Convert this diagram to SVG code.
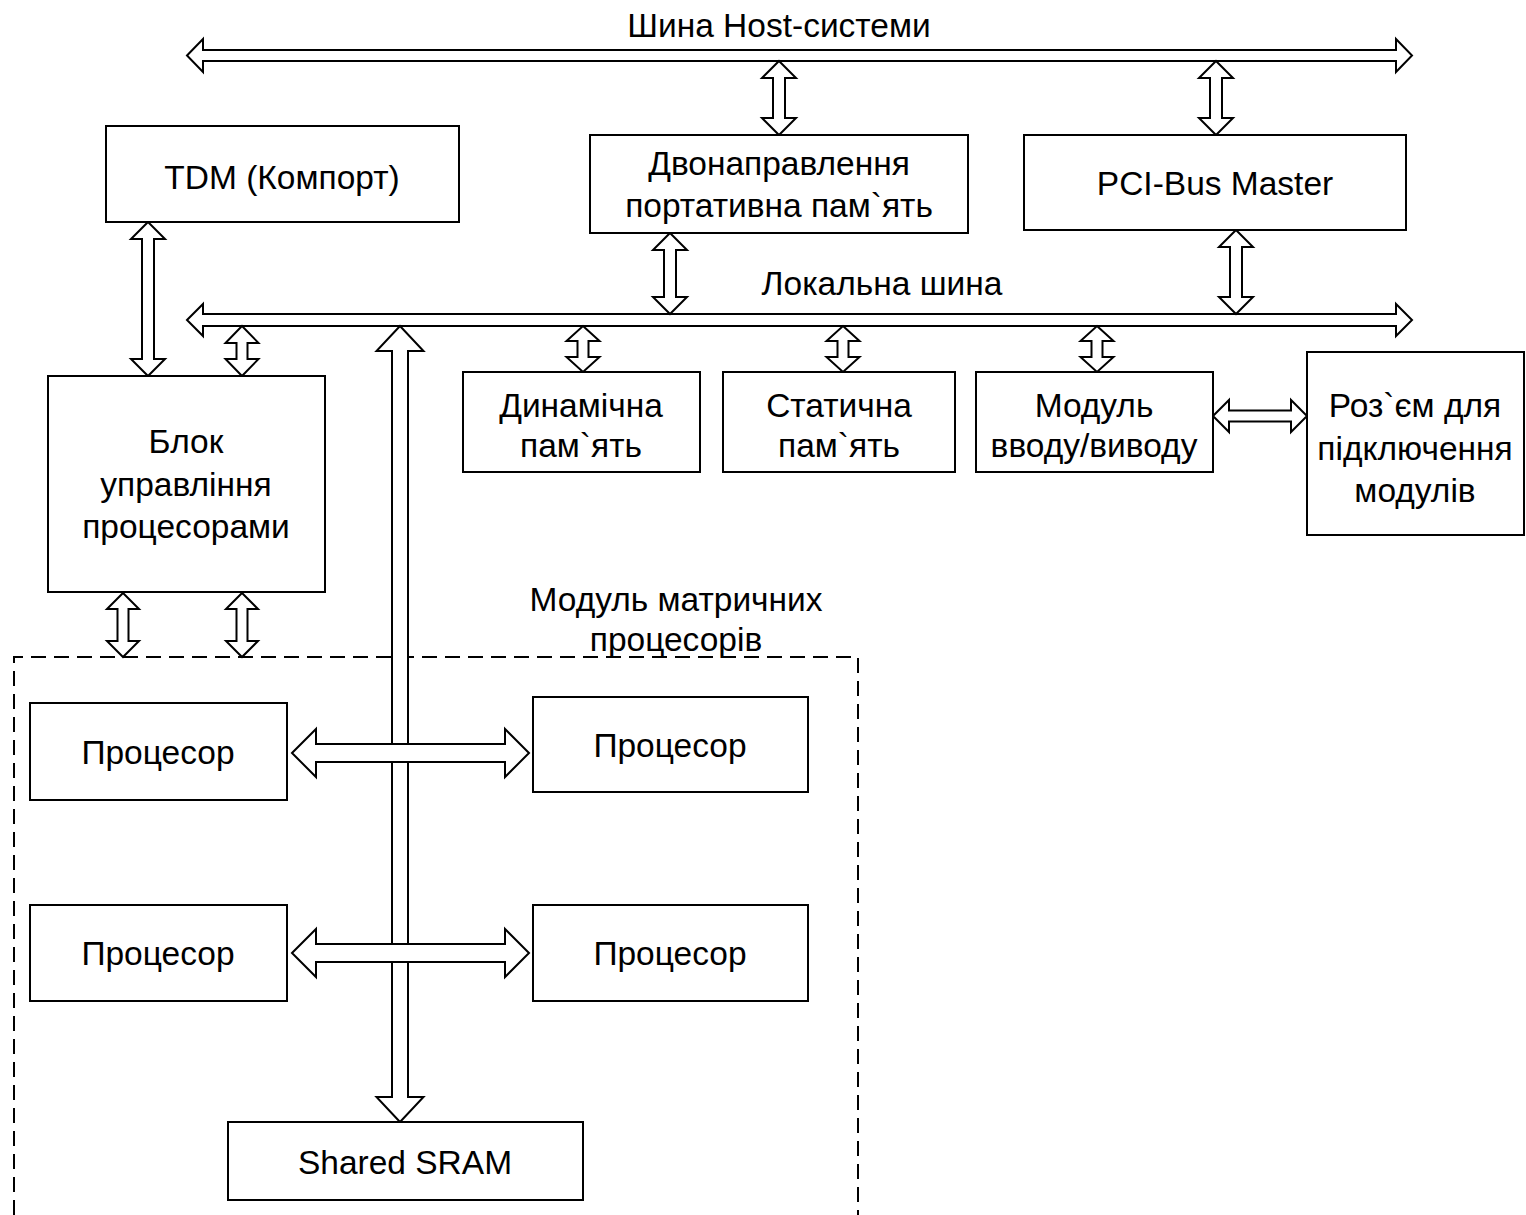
<svg xmlns="http://www.w3.org/2000/svg" width="1526" height="1215" viewBox="0 0 1526 1215">
<style>
.box{fill:#fff;stroke:#000;stroke-width:2}
.arr{fill:#fff;stroke:#000;stroke-width:2;stroke-linejoin:miter}
.dash{fill:none;stroke:#000;stroke-width:2;stroke-dasharray:15 8}
text{font-family:"Liberation Sans",Arial,sans-serif;font-size:33.5px;fill:#000;text-anchor:middle}
</style>
<rect width="1526" height="1215" fill="#fff"/>
<g id="module-border">
<path class="dash" d="M14,1215 V657 H858 V1215"/>
<text x="676" y="611">Модуль матричних</text>
<text x="676" y="651">процесорів</text>
</g>
<g id="connectors">
<polygon class="arr" points="187,55.5 203,39 203,50 1396,50 1396,39 1412,55.5 1396,72 1396,61 203,61 203,72"/>
<polygon class="arr" points="187,320 203,304 203,314 1396,314 1396,304 1412,320 1396,336 1396,326 203,326 203,336"/>
<polygon class="arr" points="779,61 796,78 785,78 785,118 796,118 779,135 762,118 773,118 773,78 762,78"/>
<polygon class="arr" points="1216,61 1233,78 1222,78 1222,118 1233,118 1216,135 1199,118 1210,118 1210,78 1199,78"/>
<polygon class="arr" points="670,233 687,250 676,250 676,297 687,297 670,314 653,297 664,297 664,250 653,250"/>
<polygon class="arr" points="1236,230 1253,247 1242,247 1242,297 1253,297 1236,314 1219,297 1230,297 1230,247 1219,247"/>
<polygon class="arr" points="148,222 165,239 154,239 154,359 165,359 148,376 131,359 142,359 142,239 131,239"/>
<polygon class="arr" points="242,326 258.5,343 247.5,343 247.5,359 258.5,359 242,376 225.5,359 236.5,359 236.5,343 225.5,343"/>
<polygon class="arr" points="583,326 599.5,341 588.5,341 588.5,357 599.5,357 583,372 566.5,357 577.5,357 577.5,341 566.5,341"/>
<polygon class="arr" points="843,326 859.5,341 848.5,341 848.5,357 859.5,357 843,372 826.5,357 837.5,357 837.5,341 826.5,341"/>
<polygon class="arr" points="1097,326 1113.5,341 1102.5,341 1102.5,357 1113.5,357 1097,372 1080.5,357 1091.5,357 1091.5,341 1080.5,341"/>
<polygon class="arr" points="1213,416 1229,400 1229,410.5 1291,410.5 1291,400 1307,416 1291,432 1291,421.5 1229,421.5 1229,432"/>
<polygon class="arr" points="123,593 139,609 128.5,609 128.5,641 139,641 123,657 107,641 117.5,641 117.5,609 107,609"/>
<polygon class="arr" points="242,593 258,609 247.5,609 247.5,641 258,641 242,657 226,641 236.5,641 236.5,609 226,609"/>
<polygon class="arr" points="400,326 423.5,351 408,351 408,1097 423.5,1097 400,1122 376.5,1097 392,1097 392,351 376.5,351"/>
<polygon class="arr" points="292,753 316,729 316,744 505,744 505,729 529,753 505,777 505,762 316,762 316,777"/>
<polygon class="arr" points="292,953 316,929 316,944 505,944 505,929 529,953 505,977 505,962 316,962 316,977"/>
<text x="779" y="37">Шина Host-системи</text>
<text x="882" y="295">Локальна шина</text>
</g>
<g id="tdm"><rect class="box" x="106" y="126" width="353" height="96"/><text x="282" y="189">TDM (Компорт)</text></g>
<g id="dual-port"><rect class="box" x="590" y="135" width="378" height="98"/><text x="779" y="175">Двонаправлення</text><text x="779" y="217">портативна пам`ять</text></g>
<g id="pci"><rect class="box" x="1024" y="135" width="382" height="95"/><text x="1215" y="195">PCI-Bus Master</text></g>
<g id="control"><rect class="box" x="48" y="376" width="277" height="216"/><text x="186" y="453">Блок</text><text x="186" y="496">управління</text><text x="186" y="538">процесорами</text></g>
<g id="dram"><rect class="box" x="463" y="372" width="237" height="100"/><text x="581" y="417">Динамічна</text><text x="581" y="457">пам`ять</text></g>
<g id="sram"><rect class="box" x="723" y="372" width="232" height="100"/><text x="839" y="417">Статична</text><text x="839" y="457">пам`ять</text></g>
<g id="io"><rect class="box" x="976" y="372" width="237" height="100"/><text x="1094" y="417">Модуль</text><text x="1094" y="457">вводу/виводу</text></g>
<g id="connector"><rect class="box" x="1307" y="352" width="217" height="183"/><text x="1415" y="417">Роз`єм для</text><text x="1415" y="460">підключення</text><text x="1415" y="502">модулів</text></g>
<g id="proc1"><rect class="box" x="30" y="703" width="257" height="97"/><text x="158" y="764">Процесор</text></g>
<g id="proc2"><rect class="box" x="533" y="697" width="275" height="95"/><text x="670" y="757">Процесор</text></g>
<g id="proc3"><rect class="box" x="30" y="905" width="257" height="96"/><text x="158" y="965">Процесор</text></g>
<g id="proc4"><rect class="box" x="533" y="905" width="275" height="96"/><text x="670" y="965">Процесор</text></g>
<g id="shared-sram"><rect class="box" x="228" y="1122" width="355" height="78"/><text x="405" y="1174">Shared SRAM</text></g>
</svg>
